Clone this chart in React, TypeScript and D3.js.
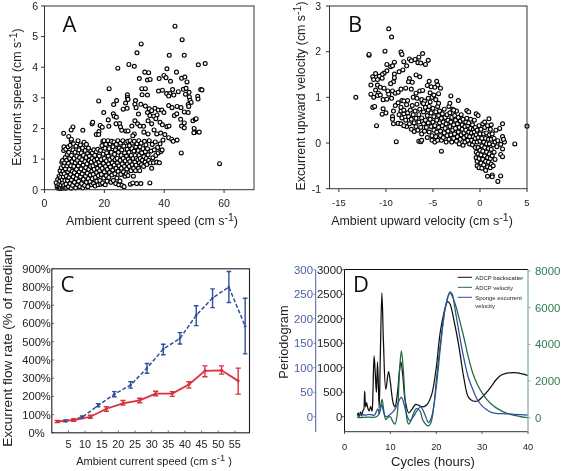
import React from "react";
import * as d3 from "d3";

// ---------- Panel A: ambient current speed vs excurrent speed ----------
const aUpper: number[][] = [
[43.6,5.34],[46,4.9],[32.3,4.76],[30.9,4.47],[41.7,4.39],[46.7,4.39],[28.2,4.09],[30,4.03],[24.5,3.97],[51.4,4.08],[53.7,4.12],[40.9,3.95],
[33.5,3.84],[34.8,3.82],[44.1,3.84],[31.7,3.63],[34.4,3.58],[35.3,3.6],[38.3,3.63],[39.9,3.73],[40.6,3.66],[42.1,3.54],[45.8,3.64],[46.9,3.68],[47.6,3.52],
[21.6,3.3],[32.5,3.3],[33.7,3.3],[38.1,3.22],[39.4,3.25],[40.8,3.14],[41.9,3.14],[42.8,3.27],[44.7,3.2],[46.4,3.28],[47.3,3.31],[48.3,3.18],[52.2,3.27],[52.6,3.26],
[27.7,3.1],[27.7,3.01],[27.9,2.95],[32.6,3.1],[34.4,3.09],[41.5,3.06],[43.2,3.09],[47.1,3.12],[48.4,3.03],[51.2,3.05],[51.3,2.96],
[18.1,2.9],[24.1,2.91],[23.1,2.78],[27.1,2.83],[30.4,2.91],[30.2,2.79],[30.6,2.68],[26.3,2.63],[27.6,2.66],[32.2,2.79],[33.7,2.73],[48.6,2.92],[49,2.85],[48,2.78],[48.2,2.72],
[35,2.64],[35.8,2.58],[36.9,2.66],[38,2.6],[39.2,2.6],[41.5,2.75],[42.6,2.68],[44.3,2.72],[45.6,2.68],[46.7,2.54],[48,2.52],[34.4,2.52],[35.2,2.42],[36.5,2.4],[37.6,2.44],[39.9,2.52],
[19.8,2.52],[23,2.48],[23.3,2.4],[24,2.37],[21.3,2.28],[31.4,2.47],[30.2,2.25],[31.1,2.15],[33.1,2.07],[34.6,2.25],[35.8,2.15],[37.2,2.32],[38.6,2.2],[39.4,2.12],[40.9,2.06],[41.6,2.08],[43.4,2.42],[44.2,2.48],[45.5,2.3],[46.7,2.18],[45.8,2.08],[46.7,2.02],
[15.9,2.15],[16.1,2.2],[18.6,2.1],[19.3,2.04],[21.5,2.07],[23.9,2.15],[25.1,2.16],[25.4,2.05],[29.2,2.08],[31.9,2.08],[49.6,2.25],[50.4,2.3],[50.7,2.32],[50,2],[50.2,1.88],[49.9,1.86],[51.7,1.88],
[6.4,1.84],[9.5,2.05],[8.9,1.95],[12.8,1.94],[8.1,1.74],[9,1.65],[17.3,1.8],[18.2,1.9],[18.1,1.8],[25.8,1.94],[27.2,1.92],[27.9,1.92],[30,1.82],[29.5,1.76],[33.2,1.88],[34.6,1.82],[36.6,1.95],[37.5,1.82],[38.8,1.85],[40.2,1.8],[41.5,1.7],[42.5,1.65],[43,1.58],[44.3,1.62],[45.7,1.2]];
const aOutlier: number[][] = [[58.5,0.85]];
const aDense: number[][] = [
[3.9,.23],[4.2,.1],[4.4,.33],[4.6,.05],[4.8,.18],[4.9,.45],[5,.07],[5.1,.28],[5.2,.62],[5.3,.04],[5.4,.4],[5.5,.15],[5.6,.72],[5.7,.52],[5.8,.9],[5.9,.05],[5.9,.32],
[6,.95],[6.1,.22],[6.2,.6],[6.3,.08],[6.3,.42],[6.4,1.28],[6.4,.78],[6.5,1.4],[6.5,.14],[6.6,.52],[6.7,.88],[6.8,.3],[6.9,1.05],[6.9,.05],
[7,.68],[7.1,1.32],[7.2,.18],[7.3,.44],[7.4,.96],[7.4,.06],[7.5,.78],[7.6,1.15],[7.7,.3],[7.8,.58],[7.9,1.4],[8,.1],[8,.86],[8.1,1.22],[8.2,.4],[8.3,.66],[8.4,1.02],[8.5,.2],[8.6,1.45],[8.7,.5],[8.8,.78],[8.9,.05],[8.9,1.6],[9,.32],[9,1.12],
[9.2,.92],[9.3,.6],[9.4,.14],[9.5,1.3],[9.6,.42],[9.7,1.5],[9.8,.76],[9.9,1.02],[10,.24],[10,.56],[10.2,1.22],[10.3,.88],[10.4,.06],[10.5,1.42],[10.6,.36],[10.7,.66],[10.8,1.1],[10.9,.48],[11,.16],[11,.96],
[11.2,1.6],[11.3,.78],[11.4,.28],[11.5,1.3],[11.6,.58],[11.7,1.05],[11.8,.1],[11.9,.88],[12,.42],[12,1.46],[12.2,.68],[12.3,1.2],[12.4,.2],[12.5,.98],[12.6,.52],[12.7,1.36],[12.8,.06],[12.9,.8],[13,.34],[13,1.12],
[13.2,1.55],[13.3,.62],[13.4,.14],[13.5,.92],[13.6,1.28],[13.7,.44],[13.8,.72],[13.9,1.05],[14,.24],[14,1.48],[14.2,.84],[14.3,.54],[14.4,1.18],[14.5,.1],[14.6,.36],[14.7,1.36],[14.8,.66],[14.9,.96],[15,1.1],
[15.2,.26],[15.3,.48],[15.4,.76],[15.5,1.25],[15.6,.9],[15.7,.16],[15.8,.6],[15.9,1.02],[16,.36],[16,1.2],[16.2,.78],[16.3,.5],[16.4,.2],[16.5,1.3],[16.6,.66],[16.7,.96],[16.8,1.12],[16.9,.12],[17,.4],
[17.2,.84],[17.3,1.24],[17.4,.56],[17.5,.28],[17.6,1],[17.7,.7],[17.8,1.32],[17.9,.16],[18,.46],[18.2,.9],[18.3,1.1],[18.4,.62],[18.5,.3],[18.6,.78],[18.7,1.28],[18.8,.18],[18.9,.98],[19,.5],
[19.2,1.44],[19.3,.7],[19.4,.22],[19.5,1.58],[19.6,1.16],[19.7,.86],[19.8,.38],[19.9,1.6],[20,.58],[20,1.02],[20.2,1.35],[20.3,.16],[20.4,.76],[20.5,1.48],[20.6,.46],[20.7,.94],[20.8,1.2],[20.9,.28],[21,.66],
[21.2,1.6],[21.3,1.1],[21.4,.84],[21.5,.4],[21.6,1.34],[21.7,.56],[21.8,.98],[21.9,1.5],[22,.74],[22.2,.24],[22.3,1.22],[22.4,1.58],[22.5,.48],[22.6,.88],[22.7,1.05],[22.8,.64],[22.9,1.4],[23,.3],
[23.2,1.56],[23.3,.8],[23.4,1.15],[23.5,.52],[23.6,.98],[23.7,1.3],[23.8,.2],[23.9,.7],[24,1.48],[24.2,.38],[24.3,1.02],[24.4,.88],[24.5,1.6],[24.6,.6],[24.7,1.22],[24.8,.16],[24.9,.78],[25,1.36],
[25.2,.28],[25.3,.96],[25.4,1.52],[25.5,.5],[25.6,1.12],[25.7,.7],[25.8,1.3],[25.9,.14],[26,.84],[26.2,1.6],[26.3,1.02],[26.4,.58],[26.5,1.42],[26.6,.1],[26.7,.76],[26.8,1.2],[26.9,.44],[27,.94],
[27.2,1.54],[27.3,.52],[27.4,1.1],[27.5,.68],[27.6,1.32],[27.7,.84],[27.8,1.58],[27.9,.46],[28,1],[28.2,1.22],[28.3,.76],[28.4,1.44],[28.5,.92],[28.6,1.6],[28.7,.18],[28.9,.62],[29,1.12],
[29.2,1.34],[29.3,.82],[29.4,1.52],[29.5,.22],[29.6,1.02],[29.7,.44],[29.8,.7],[29.9,1.26],[30,1.58],[30.2,.9],[30.3,1.12],[30.4,.62],[30.5,1.4],[30.6,.8],[30.7,1.02],[30.8,.2],[30.9,1.5],
[31.2,.98],[31.3,1.28],[31.4,.7],[31.5,1.6],[31.6,1.12],[31.7,.88],[31.8,.62],[31.9,1.4],[32,1.02],[32.2,.2],[32.3,1.52],[32.4,.82],[32.5,1.2],[32.7,.96],[32.9,1.34],
[33.1,.76],[33.2,1.08],[33.4,1.58],[33.6,.9],[33.7,1.24],[33.9,1.46],[34,1.02],[34.2,.82],[34.4,1.34],[34.6,1.14],[34.8,.96],[35,1.6],[35.2,.22],[35.4,.88],[35.6,1.26],[35.8,.7],[36,1.48],
[36.2,1.04],[36.4,.88],[36.7,1.3],[37,1.56],[37.2,1.12],[37.5,.9],[37.8,1.38],[38,1.2],[38.4,.88],[38.6,1.5],[38.9,1.25],[39.3,1.3],[39.6,1.62]];

// ---------- Panel B: ambient vs excurrent upward velocity ----------
const bUpper: number[][] = [
[-13.2,1],[-9.7,2.5],[-9.4,2.32],[-11.8,1.92],[-11.8,1.94],[-10.1,2.01],[-8.4,1.99],[-8.3,1.94],[-6.1,1.96],[-6.5,1.88],[-6.9,1.83],[-7.5,1.84],[-7.3,1.8],[-6.6,1.76],[-6.3,1.75],[-5.5,1.81],[-5.8,1.72],[-8.1,1.78],[-9.1,1.77],[-9.9,1.72],[-9.5,1.67],[-9.3,1.69],[-7.8,1.69],[-8.2,1.6],[-8.6,1.56],[-9.1,1.51],[-9.9,1.58],[-10.2,1.53],[-10.4,1.5],[-11.1,1.52],[-11.4,1.45],[-10.7,1.46],[-11.3,1.39],[-10.9,1.39],[-10.4,1.42],[-6.8,1.49],[-6.4,1.45],[-7.5,1.41],[-9.1,1.43],[-9.2,1.34],[-9.5,1.3],[-7.6,1.34],[-7.2,1.33],[-5.4,1.35],[-4.6,1.35],[-5.6,1.26],[-5.2,1.23],[-4.5,1.27],[-4.8,1.22],[-4.2,1.2],
[-11.6,1.27],[-10.9,1.27],[-10.6,1.22],[-10.2,1.2],[-11.1,1.16],[-10.8,1.09],[-11.6,1.07],[-11.3,1],[-10.9,1.04],[-10.6,1.05],[-9.8,1.14],[-9.3,1.14],[-9.7,1.07],[-9,1.09],[-8.7,1.11],[-8.4,1.18],[-7.9,1.2],[-7.3,1.18],[-6.8,1.09],[-6.4,1.14],[-6.1,1.15],[-10.3,.95],[-9.9,.96],[-9.4,.98],[-8.3,.93],[-8.1,.92],[-7.7,.93],[-7.1,1],[-6.7,.98],[-6.2,.95],[-5.9,.92],[-5.3,1.1],[-5.1,1],[-4.9,1.05],[-4.7,.95],[-4.4,1.08],[-5.5,.98],[-3.1,1.03],[-2.3,.93],[-3.2,.87],[-4.4,.87],[-5.4,.8],[-6,.86],
[-11.4,.78],[-11.2,.8],[-10.3,.75],[-10,.66],[-10.4,.63],[-9.2,.7],[-9.3,.58],[-9.3,.52],[-9,.82],[-8.7,.88],[-8.4,.78],[-8.1,.72],[-7.8,.84],[-11,.38],[-9.2,.42],[-8.7,.43],[-8.4,.42],[-8.1,.38],[-8.9,.03],[-6.5,.04],[-6.3,.03],[-6.2,.06],[-4.1,-.18],[-2.8,.72],[-1.4,.71],[-1.2,.68],[-.4,.64],[-.2,.6],[.95,.53],[-.6,.5],[1.2,.4],[.5,.46],[2.4,.42],[1.7,.28],[2.1,.32],[3.7,-.02],[5,.37],[2.6,.02],[2.4,.14],[2.5,.08],[2.2,-.03],[2.4,-.13],[2.2,-.25],[2.4,-.3],[1.9,-.84],[2.2,-.72],[1.3,-.7],[1.3,-.74],[.8,-.73]];
const bDense: number[][] = [
[-8.6,.62],[-8.4,.7],[-8.3,.55],[-8.1,.64],[-7.9,.5],[-7.8,.36],[-7.7,.66],[-7.6,.58],[-7.5,.42],[-7.4,.72],[-7.3,.3],[-7.3,.52],[-7.2,.82],[-7.1,.62],[-7,.25],[-7,.44],[-6.9,.7],[-6.8,.36],[-6.8,.54],[-6.7,.85],[-6.6,.28],[-6.5,.62],[-6.5,.46],[-6.4,.74],[-6.3,.34],[-6.2,.55],[-6.2,.2],[-6.1,.88],[-6,.42],[-6,.68],[-5.9,.26],[-5.8,.5],[-5.8,.78],[-5.7,.34],[-5.6,.6],[-5.6,.12],[-5.5,.44],[-5.5,.72],[-5.4,.24],[-5.3,.52],[-5.3,.9],[-5.2,.36],[-5.2,.66],[-5.1,.06],[-5.1,.16],[-5,.46],[-5,.76],[-4.9,.28],[-4.9,.58],[-4.8,.02],[-4.8,.38],[-4.7,.68],[-4.7,.14],[-4.6,.5],[-4.6,.24],[-4.5,.8],[-4.5,.06],[-4.4,.6],[-4.4,.34],[-4.3,.44],[-4.3,.7],[-4.2,.16],[-4.2,.26],[-4.1,.54],[-4.1,.06],[-4,.38],[-4,.64],[-3.9,.12],[-3.9,.46],[-3.8,.22],[-3.8,.74],[-3.7,.56],[-3.7,.32],[-3.6,.02],[-3.6,.42],[-3.5,.62],[-3.5,.16],[-3.4,.26],[-3.4,.5],[-3.3,.8],[-3.3,.08],[-3.2,.36],[-3.2,.66],[-3.1,.46],[-3.1,.18],[-3,.56],[-3,.02],[-2.9,.28],[-2.9,.74],[-2.8,.4],[-2.8,.1],[-2.7,.6],[-2.7,.2],[-2.6,.5],[-2.6,.32],[-2.5,.04],[-2.5,.7],[-2.4,.42],[-2.4,.14],[-2.3,.24],[-2.3,.56],[-2.2,.34],[-2.2,-.02],[-2.1,.48],[-2.1,.08],[-2,.18],[-2,.62],[-1.9,.3],[-1.9,.4],[-1.8,-.05],[-1.8,.52],[-1.7,.12],[-1.7,.22],[-1.6,.36],[-1.6,.02],[-1.5,.46],[-1.5,.28],[-1.4,.16],[-1.4,.54],[-1.3,.06],[-1.3,.38],[-1.2,.24],[-1.2,.44],[-1.1,-.02],[-1.1,.14],[-1,.32],[-1,.52],[-.9,.06],[-.9,.22],[-.8,.4],[-.8,-.04],[-.7,.14],[-.7,.3],[-.6,.02],[-.6,.24],[-.5,-.1],[-.5,.1],[-.5,.34],[-.4,-.32],[-.4,.18],[-.4,-.2],[-.3,-.4],[-.3,.02],[-.3,.28],[-.3,-.5],[-.2,-.24],[-.2,-.1],[-.2,.12],[-.1,-.54],[-.1,.38],[-.1,-.34],[0,.04],[0,-.16],[0,.2],[.1,-.44],[.1,-.26],[.1,.3],[.2,-.55],[.2,-.06],[.2,.1],[.3,-.36],[.3,.42],[.3,-.18],[.4,.02],[.4,-.48],[.4,.2],[.5,-.28],[.5,-.1],[.5,.34],[.6,-.6],[.6,.1],[.6,-.4],[.7,-.02],[.7,-.2],[.7,.22],[.8,-.52],[.8,-.32],[.8,.38],[.9,.08],[.9,-.12],[.9,-.42],[1,-.24],[1,.18],[1,-.02],[1.1,-.54],[1.1,-.34],[1.1,.3],[1.2,.08],[1.2,-.14],[1.2,-.46],[1.3,-.28],[1.3,.2],[1.4,-.04],[1.4,-.5],[1.5,-.2],[1.5,.1],[1.6,.02],[1.6,-.36],[1.8,-.08],[1.9,.05]];

// ---------- Panel C: excurrent flow rate ----------
const cBlueSpeed = [4.1, 9.1, 13.9, 18.8, 23.7, 28.6, 33.5, 38.5, 43.4, 48.3, 53.2, 58.1];
const cBlueMean = [65, 85, 150, 212, 262, 355, 460, 518, 645, 740, 800, 585];
const cBlueLow = [60, 78, 143, 198, 245, 327, 428, 487, 588, 687, 715, 433];
const cBlueHigh = [70, 92, 160, 226, 280, 380, 486, 550, 697, 790, 885, 738];
const cRedSpeed = [1.6, 6.6, 11.6, 16.4, 21.4, 26.4, 31.2, 36.2, 41.2, 46, 51, 56];
const cRedMean = [62, 70, 88, 132, 162, 178, 215, 215, 265, 340, 343, 285];
const cRedLow = [56, 63, 80, 118, 152, 165, 203, 200, 245, 308, 322, 212];
const cRedHigh = [68, 77, 96, 143, 177, 190, 228, 226, 280, 367, 367, 355];
const cYTicks = [0, 100, 200, 300, 400, 500, 600, 700, 800, 900];
const cXTicks = [5, 10, 15, 20, 25, 30, 35, 40, 45, 50, 55];

// ---------- Panel D: periodograms ----------
const dBlack: number[][] = [[2.8,20],[3,80],[3.2,0],[3.5,100],[3.7,10],[4,120],[4.2,150],[4.4,520],[4.6,200],[4.8,290],[5.1,170],[5.4,120],[5.7,210],[6,110],[6.2,500],[6.45,1240],[6.7,900],[6.95,500],[7.2,1120],[7.55,180],[7.8,1200],[8.15,2530],[8.5,1500],[9,560],[9.6,920],[10,700],[10.6,280],[11,200],[11.5,450],[12,950],[12.3,1120],[12.7,850],[13.2,350],[14,80],[14.7,150],[15.5,250],[16.2,230],[17,200],[18,250],[19,450],[20,1000],[21,1800],[22.5,2350],[23,2300],[24,1900],[25,1400],[26,800],[27,400],[28,320],[29,320],[30,400],[31,500],[32,620],[33,750],[34,840],[35,880],[36,895],[37,900],[38,890],[39,870],[40,840]];
const dGreen: number[][] = [[2.8,0],[4,20],[5,30],[6,20],[7,50],[7.5,200],[7.9,700],[8.2,1000],[8.5,500],[9,-100],[9.5,30],[10,50],[10.5,-200],[11,-350],[11.5,200],[12,2600],[12.4,3650],[12.8,2700],[13.2,1000],[13.7,-200],[14,-350],[14.5,-150],[15,200],[15.7,500],[16.5,350],[17,-100],[17.5,-300],[18.2,-450],[18.8,-300],[19.5,700],[20,2000],[21,4200],[22,6000],[23,6800],[24,6300],[25,5400],[26,4400],[27,3300],[28,2400],[29,1800],[30,1350],[31,1000],[32,750],[33,550],[34,400],[35,280],[36,200],[37,130],[38,80],[39,30],[40,10]];
const dBlue: number[][] = [[2.8,0],[3.5,5],[4.5,3],[5.5,5],[6.5,3],[7,12],[7.3,16],[7.6,6],[8.1,25],[8.5,10],[9,0],[10,5],[11,15],[11.5,25],[12,35],[12.4,40],[13,25],[13.7,0],[14.2,-8],[15,0],[16,15],[16.6,20],[17.5,5],[18.3,-12],[19,0],[20,60],[21,150],[22,225],[23,255],[23.5,250],[24,225],[25,170],[26,120],[27,80],[28,55],[29,34],[30,22],[31,14],[32,9],[33,7],[35,6],[37,5],[40,3]];
const dBlackTicks = [0, 500, 1000, 1500, 2000, 2500, 3000];
const dBlueTicks = [0, 50, 100, 150, 200, 250, 300];
const dGreenTicks = [0, 2000, 4000, 6000, 8000];
const dXTicks = [0, 10, 20, 30, 40];

const sans = "'Liberation Sans', Arial, sans-serif";
const letter = "'Open Sans', sans-serif";
const blue = "#2f4f9a";
const red = "#d8303c";
const green = "#1f6b40";
const blueText = "#4a5f9f";
const greenText = "#2f7d52";

const Unit = ({ x, y, children, size, rotate, anchor = "middle", fill = "#222" }: any) => (
  <text
    transform={`translate(${x},${y})${rotate ? ` rotate(${rotate})` : ""}`}
    textAnchor={anchor}
    fontFamily={sans}
    fontSize={size}
    fill={fill}
  >
    {children}
  </text>
);
const Sup = ({ children, size }: any) => (
  <tspan dy={-size * 0.36} fontSize={size * 0.85}>{children}</tspan>
);

function Scatter({ data, x, y }: any) {
  return (
    <g fill="#fff" stroke="#000" strokeWidth={1.15}>
      {data.map((d: number[], i: number) => (
        <circle key={i} cx={x(d[0])} cy={y(d[1])} r={1.95} />
      ))}
    </g>
  );
}

export default function App() {
  const ax = d3.scaleLinear().domain([0, 70]).range([44.5, 254]);
  const ay = d3.scaleLinear().domain([0, 6]).range([189.7, 6]);
  const bx = d3.scaleLinear().domain([-16, 5]).range([329.5, 527]);
  const by = d3.scaleLinear().domain([-1, 3]).range([188.7, 6]);
  const cx = d3.scaleLinear().domain([0, 59.4]).range([51.8, 249.5]);
  const cy = d3.scaleLinear().domain([0, 900]).range([432.8, 268.8]);
  const dx = d3.scaleLinear().domain([0, 40]).range([344.5, 528]);
  const dyK = d3.scaleLinear().domain([0, 3000]).range([416.7, 269.8]);
  const dyB = d3.scaleLinear().domain([0, 300]).range([416.7, 269.8]);
  const dyG = d3.scaleLinear().domain([0, 8000]).range([417.7, 271]);

  const cLine = (xs: number[], ys: number[]) =>
    d3.line<number>().x((_, i) => cx(xs[i])).y((v) => cy(v))(ys) as string;
  const dLine = (pts: number[][], s: any) =>
    d3.line<number[]>().x((p) => dx(p[0])).y((p) => s(p[1])).curve(d3.curveCatmullRom.alpha(0.5))(pts) as string;

  const Err = ({ xs, lo, hi, color, hw }: any) => (
    <g stroke={color} strokeWidth={1.4} fill="none">
      {xs.map((v: number, i: number) => (
        <path key={i} d={`M${cx(v) - hw},${cy(lo[i])}H${cx(v) + hw}M${cx(v) - hw},${cy(hi[i])}H${cx(v) + hw}M${cx(v)},${cy(lo[i])}V${cy(hi[i])}`} />
      ))}
    </g>
  );

  return (
    <svg width={561} height={471} style={{ position: "absolute", left: 0, top: 0, background: "#fff" }}>
      <defs>
        <filter id="soft" x="0" y="0" width="100%" height="100%">
          <feGaussianBlur stdDeviation="0.35" />
        </filter>
      </defs>
      <g filter="url(#soft)">
        {/* Panel A */}
        <Scatter data={aDense} x={ax} y={ay} />
        <Scatter data={aUpper} x={ax} y={ay} />
        <Scatter data={aOutlier} x={ax} y={ay} />
        <rect x={44.5} y={6} width={209.5} height={183.7} fill="none" stroke="#333" strokeWidth={1} />
        {ax.ticks(4).filter((t) => t <= 60).map((t) => (
          <g key={t}>
            <path d={`M${ax(t)},189.7V193`} stroke="#333" />
            <Unit x={ax(t)} y={207} size={10.5}>{t}</Unit>
          </g>
        ))}
        {d3.range(0, 7).map((t) => (
          <g key={t}>
            <path d={`M41,${ay(t)}H44.5`} stroke="#333" />
            <Unit x={38} y={ay(t) + 3.8} size={10.5} anchor="end">{t}</Unit>
          </g>
        ))}
        <Unit x={152} y={225} size={12.4}>Ambient current speed (cm s<Sup size={12.4}>-1</Sup><tspan dy={12.4 * 0.36}>)</tspan></Unit>
        <Unit x={21} y={97} size={12.4} rotate={-90}>Excurrent speed (cm s<Sup size={12.4}>-1</Sup><tspan dy={12.4 * 0.36}>)</tspan></Unit>
        <text x={62.5} y={32} fontFamily={letter} fontSize={22} fill="#111">A</text>

        {/* Panel B */}
        <Scatter data={bDense} x={bx} y={by} />
        <Scatter data={bUpper} x={bx} y={by} />
        <rect x={329.5} y={6} width={197.5} height={182.7} fill="none" stroke="#333" strokeWidth={1} />
        {[-15, -10, -5, 0, 5].map((t) => (
          <g key={t}>
            <path d={`M${bx(t)},188.7V192`} stroke="#333" />
            <Unit x={bx(t)} y={206} size={9.5}>{t}</Unit>
          </g>
        ))}
        {[-1, 0, 1, 2, 3].map((t) => (
          <g key={t}>
            <path d={`M326,${by(t)}H329.5`} stroke="#333" />
            <Unit x={321} y={by(t) + 3.8} size={10.5} anchor="end">{t}</Unit>
          </g>
        ))}
        <Unit x={422} y={225} size={12.4}>Ambient upward velocity (cm s<Sup size={12.4}>-1</Sup><tspan dy={12.4 * 0.36}>)</tspan></Unit>
        <Unit x={305} y={96} size={12.4} rotate={-90}>Excurrent upward velocity (cm s<Sup size={12.4}>-1</Sup><tspan dy={12.4 * 0.36}>)</tspan></Unit>
        <text x={348} y={32} fontFamily={letter} fontSize={22} fill="#111">B</text>

        {/* Panel C */}
        <path d={cLine(cBlueSpeed, cBlueMean)} fill="none" stroke={blue} strokeWidth={1.5} strokeDasharray="4 2" />
        <Err xs={cBlueSpeed} lo={cBlueLow} hi={cBlueHigh} color={blue} hw={2.3} />
        <path d={cLine(cRedSpeed, cRedMean)} fill="none" stroke={red} strokeWidth={1.8} />
        <Err xs={cRedSpeed} lo={cRedLow} hi={cRedHigh} color={red} hw={2.6} />
        <g fill={blue}>{cBlueSpeed.map((v, i) => <circle key={i} cx={cx(v)} cy={cy(cBlueMean[i])} r={1.3} />)}</g>
        <g fill={red}>{cRedSpeed.map((v, i) => <circle key={i} cx={cx(v)} cy={cy(cRedMean[i])} r={1.5} />)}</g>
        <rect x={51.8} y={268.8} width={197.7} height={164} fill="none" stroke="#222" strokeWidth={1.1} />
        {cYTicks.map((t) => (
          <g key={t}>
            <path d={`M51.8,${cy(t)}H54`} stroke="#333" strokeWidth={0.7} />
            <Unit x={36.5} y={cy(t) + 4} size={11.2}>{t}%</Unit>
          </g>
        ))}
        {cXTicks.map((t) => (
          <g key={t}>
            <path d={`M${cx(t)},432.8V430.5`} stroke="#333" strokeWidth={0.7} />
            <Unit x={cx(t)} y={448} size={10.8}>{t}</Unit>
          </g>
        ))}
        <Unit x={154} y={465} size={11}>Ambient current speed (cm s<Sup size={11}>-1</Sup><tspan dy={11 * 0.36}> )</tspan></Unit>
        <Unit x={12} y={346} size={13.6} rotate={-90}>Excurrent flow rate (% of median)</Unit>
        <text x={60.5} y={292} fontFamily={letter} fontSize={22} fill="#111">C</text>

        {/* Panel D */}
        <path d={dLine(dBlack, dyK)} fill="none" stroke="#111" strokeWidth={1.25} />
        <path d={dLine(dGreen, dyG)} fill="none" stroke={green} strokeWidth={1.25} />
        <path d={dLine(dBlue, dyB)} fill="none" stroke={blue} strokeWidth={1.25} />
        <path d="M344.5,431.7V269.5H528" fill="none" stroke="#111" strokeWidth={1} />
        <path d="M344.5,431.7H528" fill="none" stroke="#333" strokeWidth={1} />
        <path d="M528,269.5V432" fill="none" stroke="#7fb5a0" strokeWidth={1.3} />
        <path d="M315.7,270V432" fill="none" stroke={blueText} strokeWidth={1} />
        {dBlackTicks.map((t) => (
          <g key={t}>
            <path d={`M342,${dyK(t)}H344.5`} stroke="#333" strokeWidth={0.8} />
            <Unit x={342.3} y={dyK(t) + 4} size={11.4} anchor="end">{t}</Unit>
          </g>
        ))}
        {dBlueTicks.map((t) => (
          <g key={t}>
            <path d={`M315.7,${dyB(t)}H313.5`} stroke={blueText} strokeWidth={0.8} />
            <Unit x={313} y={dyB(t) + 4} size={11.4} anchor="end" fill={blueText}>{t}</Unit>
          </g>
        ))}
        {dGreenTicks.map((t) => (
          <g key={t}>
            <path d={`M528,${dyG(t)}H530.5`} stroke="#7fb5a0" />
            <Unit x={535} y={dyG(t) + 4} size={11.4} anchor="start" fill={greenText}>{t}</Unit>
          </g>
        ))}
        {dXTicks.map((t) => (
          <g key={t}>
            <path d={`M${dx(t)},431.7V434`} stroke="#333" strokeWidth={0.8} />
            <Unit x={dx(t)} y={450} size={9.2}>{t}</Unit>
          </g>
        ))}
        <Unit x={433} y={465.5} size={13}>Cycles (hours)</Unit>
        <Unit x={288} y={342} size={12.8} rotate={-90}>Periodogram</Unit>
        <text x={353} y={292} fontFamily={letter} fontSize={22} fill="#111">D</text>
        <path d="M457.7,277.3H472" stroke="#111" />
        <path d="M457.7,287.3H472" stroke={green} />
        <path d="M457.7,297.3H472" stroke={blue} />
        <Unit x={475.3} y={279.5} size={5.9} anchor="start">ADCP backscatter</Unit>
        <Unit x={475.3} y={289.5} size={5.9} anchor="start">ADCP velocity</Unit>
        <Unit x={475.3} y={299.5} size={5.9} anchor="start">Sponge excurrent</Unit>
        <Unit x={475.3} y={307.5} size={5.9} anchor="start">velocity</Unit>
      </g>
    </svg>
  );
}
